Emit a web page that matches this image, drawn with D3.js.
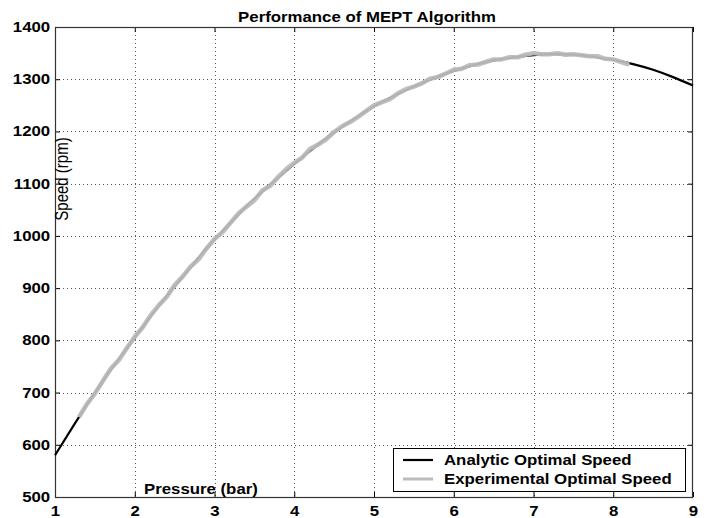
<!DOCTYPE html>
<html><head><meta charset="utf-8">
<script src="https://cdn.jsdelivr.net/npm/d3@7"></script>
<style>
body{margin:0;background:#fff;}
svg{display:block;}
text{font-family:"Liberation Sans",Arial,sans-serif;}
</style></head>
<body>
<svg id="chart" width="707" height="518"></svg>
<script>
const title = "Performance of MEPT Algorithm";
const xLabel = "Pressure (bar)";
const yLabel = "Speed (rpm)";
const seriesNames = ["Analytic Optimal Speed", "Experimental Optimal Speed"];
const xTicks = [1,2,3,4,5,6,7,8,9];
const yTicks = [500,600,700,800,900,1000,1100,1200,1300,1400];

// Analytic optimal speed (pressure, rpm)
const analyticX = [1.00,1.25,1.50,1.75,2.00,2.25,2.50,2.75,3.00,3.25,3.50,3.75,4.00,4.25,4.50,4.75,5.00,5.25,5.50,5.75,6.00,6.25,6.50,6.75,7.00,7.25,7.50,7.75,8.00,8.25,8.50,8.75,9.00];
const analyticY = [580,641,700,754,805,856,903,949,993,1033,1071,1105,1138,1169,1198,1224,1248,1268,1286,1302,1316,1327,1336,1342,1346,1348,1347,1343,1337,1329,1318,1304,1288];

// Experimental optimal speed (pressure, rpm)
const expX = [1.30,1.40,1.50,1.60,1.70,1.80,1.90,2.00,2.10,2.20,2.30,2.40,2.50,2.60,2.70,2.80,2.90,3.00,3.10,3.20,3.30,3.40,3.50,3.60,3.70,3.80,3.90,4.00,4.10,4.20,4.30,4.40,4.50,4.60,4.70,4.80,4.90,5.00,5.10,5.20,5.30,5.40,5.50,5.60,5.70,5.80,5.90,6.00,6.10,6.20,6.30,6.40,6.50,6.60,6.70,6.80,6.90,7.00,7.10,7.20,7.30,7.40,7.50,7.60,7.70,7.80,7.90,8.00,8.10,8.20];
const expY = [653,678,698,722,746,762,785,807,825,848,867,883,906,922,941,955,976,994,1007,1025,1043,1056,1068,1087,1096,1113,1128,1140,1150,1167,1175,1185,1199,1210,1218,1228,1239,1250,1256,1262,1273,1281,1286,1292,1301,1304,1311,1318,1320,1327,1328,1333,1338,1338,1342,1342,1347,1350,1348,1348,1350,1347,1348,1346,1344,1344,1339,1338,1333,1328];

const analytic = analyticX.map((x,i)=>({x, y: analyticY[i]}));
const experimental = expX.map((x,i)=>({x, y: expY[i]}));

const svg = d3.select("#chart");
const L = 55, R = 693, T = 27, B = 497;
const x = d3.scaleLinear().domain([1,9]).range([L,R]);
const y = d3.scaleLinear().domain([500,1400]).range([B,T]);
const SX = 1.2; // horizontal text stretch of the reference

// grid
const grid = svg.append("g").attr("stroke","#555").attr("stroke-width",1).attr("stroke-dasharray","1,3");
grid.selectAll(".gx").data(xTicks.slice(1,-1)).join("line")
  .attr("x1",d=>Math.round(x(d))+0.5).attr("x2",d=>Math.round(x(d))+0.5).attr("y1",T).attr("y2",B);
grid.selectAll(".gy").data(yTicks.slice(1,-1)).join("line")
  .attr("y1",d=>Math.round(y(d))+0.5).attr("y2",d=>Math.round(y(d))+0.5).attr("x1",L).attr("x2",R);

// axes
function styleAxis(g){
  g.select(".domain").remove();
  g.selectAll("line").attr("stroke","#000");
}
const xb = svg.append("g").attr("transform",`translate(0,${B})`)
  .call(d3.axisBottom(x).tickValues(xTicks).tickFormat(d3.format("d")).tickSize(-5).tickPadding(9));
styleAxis(xb);
xb.selectAll("text").attr("font-size",14).attr("font-weight","bold").attr("fill","#000")
  .attr("font-family","Liberation Sans, Arial, sans-serif").attr("transform",`scale(${SX},1)`);
const xt = svg.append("g").attr("transform",`translate(0,${T})`)
  .call(d3.axisTop(x).tickValues(xTicks).tickFormat("").tickSize(-5));
styleAxis(xt);
const yl = svg.append("g").attr("transform",`translate(${L},0)`)
  .call(d3.axisLeft(y).tickValues(yTicks).tickFormat(d3.format("d")).tickSize(-5).tickPadding(4));
styleAxis(yl);
yl.selectAll("text").attr("font-size",14).attr("font-weight","bold").attr("fill","#000")
  .attr("font-family","Liberation Sans, Arial, sans-serif").attr("transform",`scale(${SX},1)`);
const yr = svg.append("g").attr("transform",`translate(${R},0)`)
  .call(d3.axisRight(y).tickValues(yTicks).tickFormat("").tickSize(-5));
styleAxis(yr);

// frame
svg.append("rect").attr("x",L+0.5).attr("y",T+0.5).attr("width",R-L-1).attr("height",B-T)
  .attr("fill","none").attr("stroke","#333").attr("stroke-width",1.2);

// lines
const line = d3.line().x(d=>x(d.x)).y(d=>y(d.y)).curve(d3.curveNatural);
svg.append("path").datum(analytic).attr("d",line).attr("fill","none")
  .attr("stroke","#000").attr("stroke-width",2.2);
const line2 = d3.line().x(d=>x(d.x)).y(d=>y(d.y)).curve(d3.curveLinear);
svg.append("path").datum(experimental).attr("d",line2).attr("fill","none")
  .attr("stroke","#bcbcbc").attr("stroke-width",4.5).attr("stroke-linejoin","round").attr("opacity",0.95);

// title
svg.append("text").attr("transform",`translate(367,22) scale(${SX},1)`).attr("text-anchor","middle")
  .attr("font-size",14).attr("font-weight","bold").text(title);
// x label (inside plot)
svg.append("text").attr("transform",`translate(144,494) scale(${SX},1)`)
  .attr("font-size",14).attr("font-weight","bold").text(xLabel);
// y label (inside plot)
svg.append("text").attr("transform",`translate(68,179) rotate(-90) scale(1,1.2)`).attr("text-anchor","middle")
  .attr("font-size",15).attr("font-weight","normal").attr("fill","#000").text(yLabel);

// legend
const lg = svg.append("g");
lg.append("rect").attr("x",393.5).attr("y",448.5).attr("width",292).attr("height",43)
  .attr("fill","#fff").attr("stroke","#000").attr("stroke-width",1);
const rows = [{name:seriesNames[0], color:"#000", w:2.2, yy:460},{name:seriesNames[1], color:"#bcbcbc", w:3, yy:479}];
rows.forEach(r=>{
  lg.append("line").attr("x1",403).attr("x2",433).attr("y1",r.yy).attr("y2",r.yy)
    .attr("stroke",r.color).attr("stroke-width",r.w);
  lg.append("text").attr("transform",`translate(444,${r.yy+5}) scale(${SX},1)`)
    .attr("font-size",14).attr("font-weight","bold").text(r.name);
});
</script>
</body></html>
